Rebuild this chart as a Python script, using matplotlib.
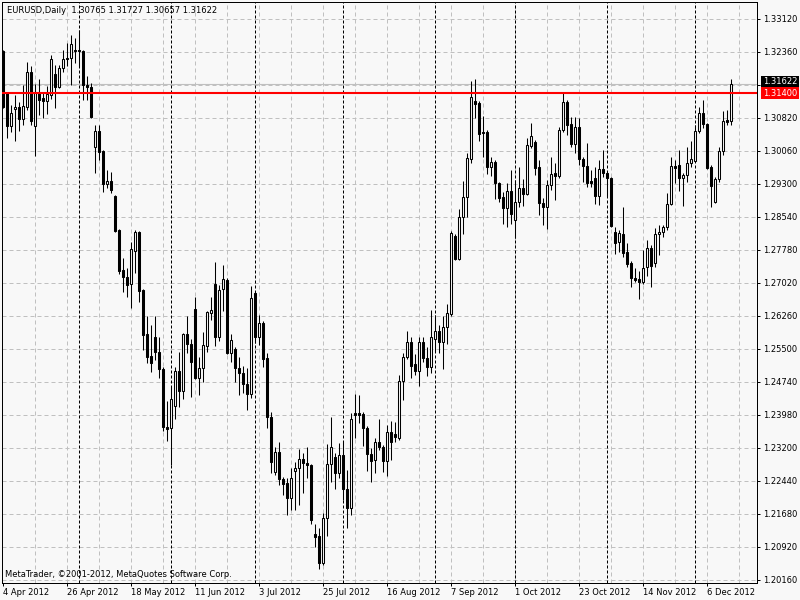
import numpy as np
import pandas as pd
import matplotlib
matplotlib.use('Agg')
import matplotlib.pyplot as plt

# EURUSD daily bars, 4 Apr 2012 .. 14 Dec 2012
symbol = 'EURUSD,Daily'
start_date = '2012-04-04'

opens = [1.3237, 1.3140, 1.3065, 1.3103, 1.3107, 1.3080, 1.3109, 1.3188, 1.3065, 1.3141,
         1.3128, 1.3123, 1.3136, 1.3184, 1.3154, 1.3198, 1.3221, 1.3221, 1.3240, 1.3240,
         1.3237, 1.3159, 1.3154, 1.3016, 1.3053, 1.3006, 1.2930, 1.2937, 1.2902, 1.2824,
         1.2731, 1.2716, 1.2699, 1.2775, 1.2819, 1.2685, 1.2584, 1.2533, 1.2577, 1.2542,
         1.2503, 1.2369, 1.2367, 1.2417, 1.2498, 1.2452, 1.2584, 1.2561, 1.2641, 1.2482,
         1.2505, 1.2556, 1.2632, 1.2699, 1.2577, 1.2688, 1.2708, 1.2540, 1.2549, 1.2505,
         1.2494, 1.2468, 1.2445, 1.2678, 1.2577, 1.2609, 1.2528, 1.2392, 1.2265, 1.2311,
         1.2249, 1.2240, 1.2205, 1.2267, 1.2274, 1.2295, 1.2286, 1.2281, 1.2122, 1.2117,
         1.2055, 1.2159, 1.2283, 1.2300, 1.2263, 1.2304, 1.2226, 1.2182, 1.2401, 1.2401,
         1.2399, 1.2367, 1.2306, 1.2293, 1.2334, 1.2323, 1.2290, 1.2357, 1.2353, 1.2343,
         1.2475, 1.2531, 1.2565, 1.2514, 1.2498, 1.2565, 1.2528, 1.2507, 1.2572, 1.2591,
         1.2565, 1.2600, 1.2630, 1.2810, 1.2757, 1.2854, 1.2900, 1.2988, 1.3122, 1.3117,
         1.3050, 1.3050, 1.2969, 1.2981, 1.2933, 1.2900, 1.2875, 1.2914, 1.2847, 1.2889,
         1.2921, 1.2907, 1.3018, 1.3027, 1.2969, 1.2886, 1.2877, 1.2928, 1.2956, 1.2949,
         1.3055, 1.3120, 1.3069, 1.3023, 1.3062, 1.2988, 1.2972, 1.2937, 1.2944, 1.2902,
         1.2965, 1.2956, 1.2944, 1.2819, 1.2796, 1.2815, 1.2773, 1.2748, 1.2713, 1.2711,
         1.2704, 1.2738, 1.2782, 1.2748, 1.2815, 1.2819, 1.2831, 1.2884, 1.2972, 1.2974,
         1.2944, 1.2951, 1.2979, 1.2983, 1.3053, 1.3094, 1.3069, 1.2969, 1.2889, 1.2942,
         1.3006, 1.3078, 1.30765]
highs = [1.3240, 1.3143, 1.3113, 1.3136, 1.3120, 1.3159, 1.3213, 1.3203, 1.3161, 1.3172,
         1.3143, 1.3157, 1.3228, 1.3205, 1.3205, 1.3240, 1.3256, 1.3274, 1.3267, 1.3286,
         1.3240, 1.3180, 1.3163, 1.3066, 1.3066, 1.3009, 1.2963, 1.2958, 1.2905, 1.2826,
         1.2759, 1.2736, 1.2796, 1.2824, 1.2822, 1.2687, 1.2625, 1.2604, 1.2625, 1.2577,
         1.2507, 1.2429, 1.2461, 1.2507, 1.2542, 1.2586, 1.2625, 1.2572, 1.2669, 1.2531,
         1.2588, 1.2637, 1.2669, 1.2750, 1.2697, 1.2743, 1.2713, 1.2584, 1.2554, 1.2531,
         1.2510, 1.2505, 1.2695, 1.2681, 1.2628, 1.2614, 1.2540, 1.2404, 1.2323, 1.2334,
         1.2253, 1.2251, 1.2274, 1.2288, 1.2318, 1.2309, 1.2323, 1.2283, 1.2145, 1.2136,
         1.2170, 1.2330, 1.2392, 1.2309, 1.2332, 1.2336, 1.2269, 1.2401, 1.2445, 1.2443,
         1.2404, 1.2371, 1.2320, 1.2343, 1.2387, 1.2327, 1.2373, 1.2383, 1.2380, 1.2489,
         1.2540, 1.2591, 1.2577, 1.2538, 1.2577, 1.2577, 1.2554, 1.2639, 1.2628, 1.2604,
         1.2625, 1.2653, 1.2822, 1.2815, 1.2872, 1.2937, 1.3002, 1.3168, 1.3173, 1.3122,
         1.3087, 1.3055, 1.2993, 1.2986, 1.2935, 1.2912, 1.2933, 1.2963, 1.2939, 1.2969,
         1.2942, 1.3036, 1.3071, 1.3032, 1.2986, 1.2898, 1.2939, 1.2993, 1.2979, 1.3062,
         1.3140, 1.3124, 1.3085, 1.3085, 1.3083, 1.2993, 1.3025, 1.2963, 1.2969, 1.2986,
         1.3009, 1.2958, 1.2946, 1.2831, 1.2824, 1.2877, 1.2794, 1.2752, 1.2736, 1.2729,
         1.2778, 1.2801, 1.2789, 1.2829, 1.2835, 1.2835, 1.2909, 1.2993, 1.2986, 1.3009,
         1.2956, 1.3016, 1.3030, 1.3066, 1.3108, 1.3124, 1.3071, 1.2974, 1.2946, 1.3016,
         1.3099, 1.3101, 1.31727]
lows = [1.3106, 1.3036, 1.3051, 1.3030, 1.3053, 1.3066, 1.3101, 1.3066, 1.2995, 1.3090,
        1.3083, 1.3092, 1.3127, 1.3106, 1.3152, 1.3189, 1.3203, 1.3159, 1.3210, 1.3200,
        1.3124, 1.3124, 1.3083, 1.2956, 1.2986, 1.2912, 1.2921, 1.2909, 1.2819, 1.2722,
        1.2681, 1.2669, 1.2644, 1.2725, 1.2658, 1.2547, 1.2517, 1.2496, 1.2524, 1.2482,
        1.2360, 1.2336, 1.2281, 1.2387, 1.2415, 1.2434, 1.2540, 1.2438, 1.2480, 1.2443,
        1.2473, 1.2542, 1.2616, 1.2556, 1.2568, 1.2637, 1.2538, 1.2519, 1.2473, 1.2443,
        1.2447, 1.2408, 1.2436, 1.2563, 1.2558, 1.2507, 1.2367, 1.2263, 1.2258, 1.2235,
        1.2212, 1.2166, 1.2177, 1.2177, 1.2189, 1.2216, 1.2251, 1.2145, 1.2092, 1.2041,
        1.2050, 1.2117, 1.2242, 1.2226, 1.2251, 1.2200, 1.2136, 1.2166, 1.2343, 1.2378,
        1.2325, 1.2267, 1.2242, 1.2263, 1.2316, 1.2265, 1.2256, 1.2293, 1.2334, 1.2339,
        1.2431, 1.2526, 1.2482, 1.2489, 1.2464, 1.2519, 1.2487, 1.2494, 1.2542, 1.2540,
        1.2503, 1.2561, 1.2625, 1.2755, 1.2755, 1.2815, 1.2854, 1.2979, 1.3083, 1.3030,
        1.2993, 1.2953, 1.2949, 1.2896, 1.2889, 1.2838, 1.2831, 1.2838, 1.2805, 1.2877,
        1.2879, 1.2905, 1.3013, 1.2951, 1.2859, 1.2835, 1.2826, 1.2916, 1.2893, 1.2944,
        1.3050, 1.3043, 1.3016, 1.3002, 1.2974, 1.2935, 1.2923, 1.2923, 1.2884, 1.2882,
        1.2946, 1.2902, 1.2831, 1.2768, 1.2773, 1.2762, 1.2738, 1.2692, 1.2704, 1.2665,
        1.2699, 1.2718, 1.2692, 1.2738, 1.2766, 1.2808, 1.2824, 1.2882, 1.2933, 1.2914,
        1.2879, 1.2935, 1.2969, 1.2981, 1.3048, 1.3060, 1.2965, 1.2877, 1.2886, 1.2935,
        1.2997, 1.3066, 1.30657]
closes = [1.3108, 1.3065, 1.3094, 1.3107, 1.3080, 1.3110, 1.3188, 1.3076, 1.3143, 1.3124,
          1.3123, 1.3138, 1.3219, 1.3154, 1.3198, 1.3219, 1.3219, 1.3254, 1.3237, 1.3237,
          1.3159, 1.3154, 1.3085, 1.3053, 1.3004, 1.2930, 1.2937, 1.2916, 1.2822, 1.2729,
          1.2716, 1.2697, 1.2780, 1.2819, 1.2683, 1.2581, 1.2531, 1.2517, 1.2542, 1.2503,
          1.2369, 1.2364, 1.2434, 1.2498, 1.2452, 1.2584, 1.2561, 1.2519, 1.2482, 1.2505,
          1.2558, 1.2634, 1.2639, 1.2577, 1.2685, 1.2711, 1.2540, 1.2570, 1.2505, 1.2494,
          1.2468, 1.2445, 1.2667, 1.2577, 1.2609, 1.2526, 1.2392, 1.2288, 1.2311, 1.2249,
          1.2237, 1.2205, 1.2251, 1.2274, 1.2295, 1.2286, 1.2281, 1.2154, 1.2115, 1.2055,
          1.2159, 1.2283, 1.2323, 1.2263, 1.2304, 1.2226, 1.2182, 1.2387, 1.2397, 1.2397,
          1.2367, 1.2306, 1.2290, 1.2334, 1.2323, 1.2290, 1.2357, 1.2334, 1.2346, 1.2475,
          1.2531, 1.2565, 1.2510, 1.2498, 1.2565, 1.2528, 1.2507, 1.2577, 1.2591, 1.2565,
          1.2600, 1.2632, 1.2817, 1.2757, 1.2854, 1.2900, 1.2990, 1.3131, 1.3115, 1.3046,
          1.3048, 1.2969, 1.2981, 1.2933, 1.2898, 1.2875, 1.2914, 1.2861, 1.2889, 1.2921,
          1.2907, 1.3020, 1.3041, 1.2967, 1.2886, 1.2877, 1.2928, 1.2953, 1.2949, 1.3055,
          1.3120, 1.3066, 1.3023, 1.3062, 1.2988, 1.2972, 1.2933, 1.2933, 1.2902, 1.2965,
          1.2956, 1.2944, 1.2833, 1.2794, 1.2817, 1.2771, 1.2745, 1.2713, 1.2708, 1.2704,
          1.2736, 1.2782, 1.2741, 1.2815, 1.2819, 1.2831, 1.2884, 1.2972, 1.2967, 1.2944,
          1.2951, 1.2979, 1.2988, 1.3053, 1.3094, 1.3069, 1.2967, 1.2925, 1.2942, 1.3006,
          1.3076, 1.3073, 1.31622]

price_labels = ['1.20160', '1.20920', '1.21680', '1.22440', '1.23200', '1.23980',
                '1.24740', '1.25500', '1.26260', '1.27020', '1.27780', '1.28540',
                '1.29300', '1.30060', '1.30820', '', '1.32360', '1.33120']
bid_price = 1.31622
level_price = 1.31400
copyright_text = 'MetaTrader, \u00a92001-2012, MetaQuotes Software Corp.'

opens = np.array(opens)
highs = np.array(highs)
lows = np.array(lows)
closes = np.array(closes)
n = len(opens)
x = np.arange(n)
dates = pd.bdate_range(start_date, periods=n)

bg = '#f8f8f8'
grid_col = '#c0c0c0'
plt.rcParams['font.family'] = 'DejaVu Sans'
plt.rcParams['font.size'] = 6

fig = plt.figure(figsize=(8, 6), dpi=100, facecolor=bg)
ax = fig.add_axes([2.3 / 800, 17 / 600, 754.7 / 800, 581 / 600])
ax.set_facecolor(bg)

# price grid
levels = np.linspace(1.2016, 1.3312, len(price_labels))
for lv in levels:
    ax.axhline(lv, color=grid_col, lw=0.72, ls=(0, (4, 3)), zorder=1)
for i in range(8, n + 8, 8):
    ax.axvline(i, color=grid_col, lw=0.72, ls=(0, (4, 3)), zorder=1)

# month separators
for i in range(1, n):
    if dates[i].month != dates[i - 1].month:
        ax.axvline(i, color='black', lw=0.72, ls=(0, (3, 2)), zorder=2)

# bid and level lines
ax.axhline(bid_price, color='#c0c0c0', lw=0.8, zorder=2)
ax.axhline(level_price, color='red', lw=1.5, zorder=6)

# candles
up = closes >= opens
ax.vlines(x, lows, highs, color='black', lw=0.75, zorder=3)
ax.bar(x, np.abs(closes - opens), 0.5, bottom=np.minimum(opens, closes),
       color=np.where(up, bg, 'black'), edgecolor='black', lw=0.75, zorder=4)

ax.set_xlim(-0.3, 188.4)
ax.set_ylim(1.20084, 1.33506)

ax.yaxis.tick_right()
ax.set_yticks(levels)
ax.set_yticklabels(price_labels)
xt = list(range(0, n, 16))
ax.set_xticks(xt)
ax.set_xticklabels(['%d %s' % (dates[i].day, dates[i].strftime('%b %Y')) for i in xt], ha='left')
ax.tick_params(axis='y', length=2.2, width=0.72, pad=2.2, colors='black')
ax.tick_params(axis='x', length=2.2, width=0.72, pad=1.5, colors='black')
for lab in ax.get_xticklabels():
    lab.set_x(0)
for s in ax.spines.values():
    s.set_color('black')
    s.set_linewidth(0.72)

# price boxes on the scale
tr = ax.get_yaxis_transform()
ax.text(1.0077, bid_price + 0.0004, '1.31622', transform=tr, ha='left', va='center',
        color='white', clip_on=False, zorder=10,
        bbox=dict(boxstyle='square,pad=0.2', fc='black', ec='none'))
ax.text(1.0077, level_price, '1.31400', transform=tr, ha='left', va='center',
        color='white', clip_on=False, zorder=10,
        bbox=dict(boxstyle='square,pad=0.2', fc='red', ec='none'))

fig.text(7 / 800, 1 - 10.5 / 600,
         '%s  %.5f %.5f %.5f %.5f' % (symbol, opens[-1], highs[-1], lows[-1], closes[-1]),
         ha='left', va='center')
fig.text(5 / 800, 1 - 574.5 / 600, copyright_text, ha='left', va='center')

fig.savefig('out.png', dpi=100, facecolor=bg)
